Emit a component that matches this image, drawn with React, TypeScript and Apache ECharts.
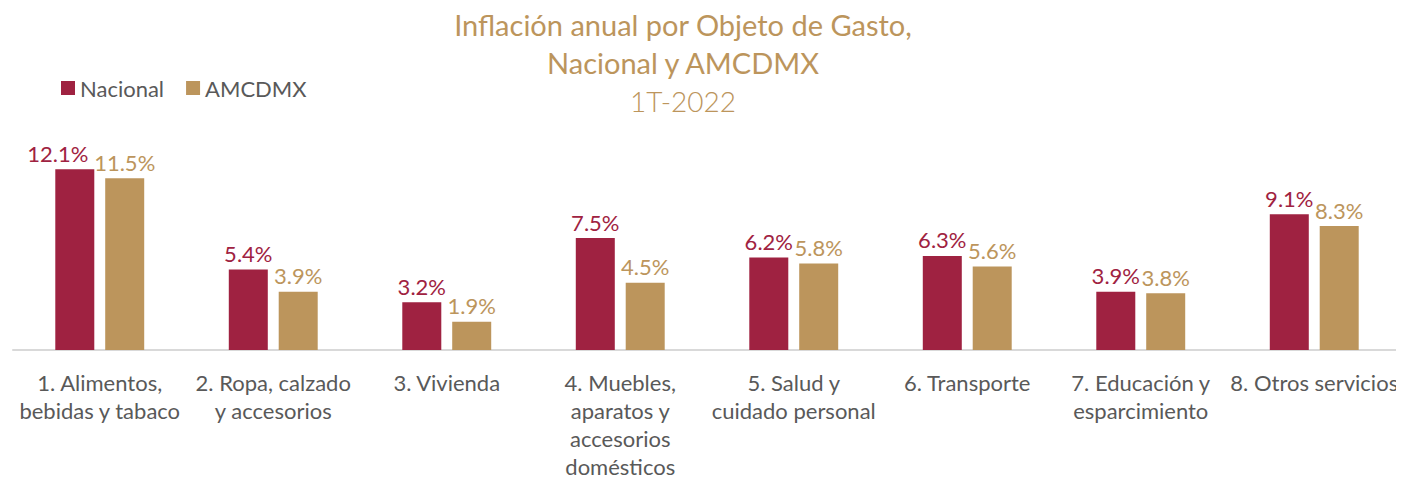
import React, { useEffect, useRef } from "react";
import * as echarts from "echarts";

const categories = [
  "1. Alimentos,\nbebidas y tabaco",
  "2. Ropa, calzado\ny accesorios",
  "3. Vivienda",
  "4. Muebles,\naparatos y\naccesorios\ndomésticos",
  "5. Salud y\ncuidado personal",
  "6. Transporte",
  "7. Educación y\nesparcimiento",
  "8. Otros servicios",
];
const nacional = [12.1, 5.4, 3.2, 7.5, 6.2, 6.3, 3.9, 9.1];
const amcdmx = [11.5, 3.9, 1.9, 4.5, 5.8, 5.6, 3.8, 8.3];
const titleLines = ["Inflación anual por Objeto de Gasto,", "Nacional y AMCDMX", "1T-2022"];

const RED = "#9F2241";
const GOLD = "#BC955C";
const GRAY = "#595959";
const FONT = "Lato, 'Noto Sans', sans-serif";

export default function App() {
  const ref = useRef<HTMLDivElement>(null);
  useEffect(() => {
    if (!ref.current) return;
    const chart = echarts.init(ref.current, undefined, { renderer: "svg" });
    const titleY = [10, 48, 87];
    const fmt = (p: any) => Number(p.value).toFixed(1) + "%";
    chart.setOption({
      animation: false,
      textStyle: { fontFamily: FONT },
      graphic: [
        ...titleLines.map((t, i) => ({
          type: "text",
          x: 683,
          y: titleY[i],
          style: {
            text: t,
            textAlign: "center",
            fill: GOLD,
            fontFamily: FONT,
            fontSize: i < 2 ? 29 : 28,
            fontWeight: i < 2 ? 400 : 300,
          },
        })),
        { type: "line", shape: { x1: 590, y1: 0, x2: 590, y2: 6 }, style: { stroke: "#808080", lineWidth: 1 } },
        { type: "line", shape: { x1: 1291, y1: 0, x2: 1291, y2: 6 }, style: { stroke: "#808080", lineWidth: 1 } },
      ],
      legend: {
        left: 56,
        top: 72,
        itemWidth: 14,
        itemHeight: 14,
        itemGap: 22,
        icon: "rect",
        textStyle: { color: GRAY, fontSize: 22, fontFamily: FONT },
        data: ["Nacional", "AMCDMX"],
      },
      grid: { left: 13, right: 3, top: 141, bottom: 129 },
      xAxis: {
        type: "category",
        data: categories,
        axisLine: { lineStyle: { color: "#D9D9D9", width: 2 } },
        axisTick: { show: false },
        axisLabel: {
          color: GRAY,
          fontSize: 22,
          lineHeight: 28,
          margin: 18,
          interval: 0,
          fontFamily: FONT,
        },
      },
      yAxis: {
        type: "value",
        min: 0,
        max: 14,
        show: false,
        splitLine: { show: false },
      },
      series: [
        {
          name: "Nacional",
          type: "bar",
          data: nacional.map((v, i) =>
            i === 0 ? { value: v, label: { offset: [-17, 0] } } : v
          ),
          barWidth: 39,
          barGap: "28%",
          itemStyle: { color: RED },
          label: {
            show: true,
            position: "top",
            distance: 5,
            color: RED,
            fontSize: 22,
            fontFamily: FONT,
            formatter: fmt,
          },
        },
        {
          name: "AMCDMX",
          type: "bar",
          data: amcdmx,
          barWidth: 39,
          itemStyle: { color: GOLD },
          label: {
            show: true,
            position: "top",
            distance: 5,
            color: GOLD,
            fontSize: 22,
            fontFamily: FONT,
            formatter: fmt,
          },
        },
      ],
    });
    return () => chart.dispose();
  }, []);
  return <div ref={ref} style={{ width: 1404, height: 480, marginLeft: -8, marginTop: -8 }} />;
}
